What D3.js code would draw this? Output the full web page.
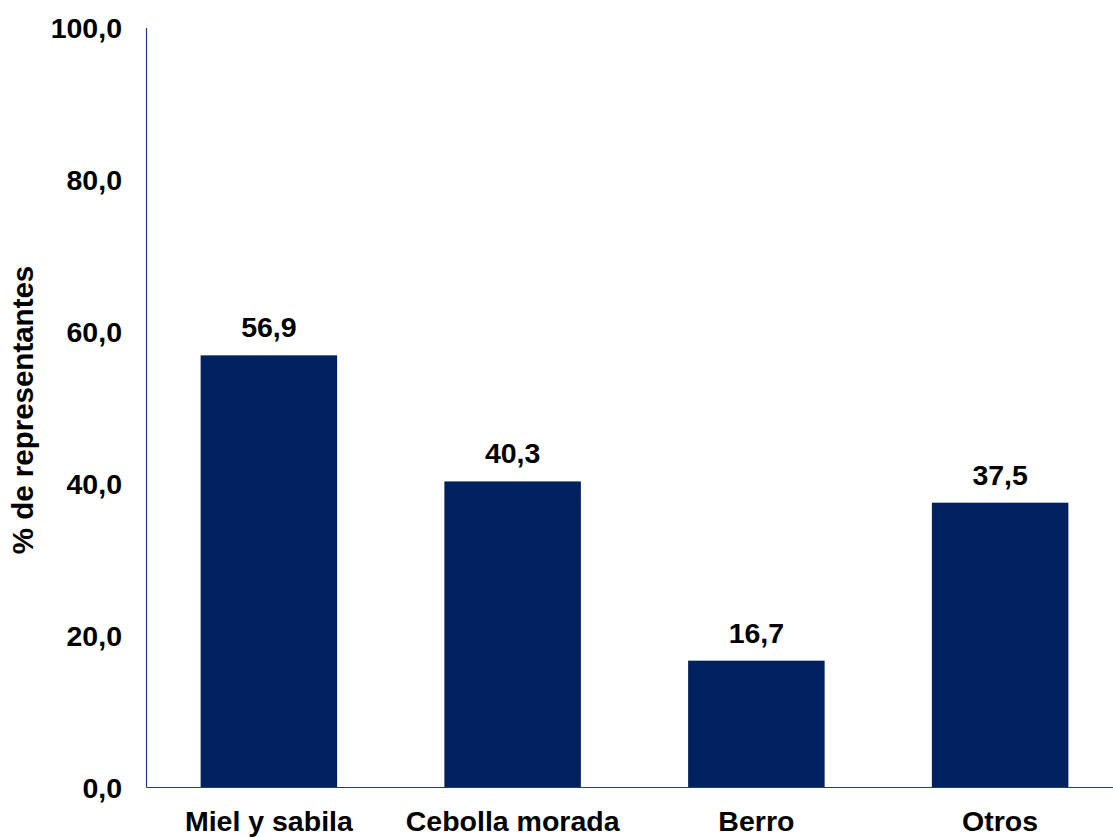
<!DOCTYPE html>
<html><head><meta charset="utf-8">
<script src="https://cdn.jsdelivr.net/npm/d3@7/dist/d3.min.js"></script>
<style>body{margin:0;background:#fff}svg{display:block}text{font-family:"Liberation Sans",Arial,sans-serif;font-weight:bold;fill:#000}</style>
</head><body>
<script>
const categories = ["Miel y sabila", "Cebolla morada", "Berro", "Otros"];
const values = [56.9, 40.3, 16.7, 37.5];
const yTicks = [0, 20, 40, 60, 80, 100];
const yTitle = "% de representantes";

const W = 1113, H = 838;
const svg = d3.select("body").append("svg").attr("width", W).attr("height", H);
const x = d3.scaleBand().domain(categories).range([147, 1122]);
const y = d3.scaleLinear().domain([0, 100]).range([787.5, 28]);
const fmt = v => v.toFixed(1).replace(".", ",");
const barW = x.bandwidth() * 0.56;

svg.selectAll("rect.bar").data(values).join("rect")
  .attr("x", (d, i) => x(categories[i]) + (x.bandwidth() - barW) / 2)
  .attr("width", barW)
  .attr("y", d => y(d))
  .attr("height", d => y(0) - y(d))
  .attr("fill", "#00205f");

svg.selectAll("text.val").data(values).join("text")
  .attr("x", (d, i) => x(categories[i]) + x.bandwidth() / 2)
  .attr("y", d => y(d) - 18)
  .attr("text-anchor", "middle").attr("font-size", 28.5)
  .text(fmt);

// axes
svg.append("line").attr("x1", 146.5).attr("x2", 146.5).attr("y1", y(100)).attr("y2", y(0))
  .attr("stroke", "#1f3a8a").attr("stroke-width", 1.2);
svg.append("line").attr("x1", 146.5).attr("x2", W).attr("y1", y(0)).attr("y2", y(0))
  .attr("stroke", "#1f3a8a").attr("stroke-width", 1.2);

svg.selectAll("text.ytick").data(yTicks).join("text")
  .attr("x", 122).attr("y", d => y(d)).attr("dy", "0.36em")
  .attr("text-anchor", "end").attr("font-size", 28.5).text(fmt);

svg.selectAll("text.xcat").data(categories).join("text")
  .attr("x", d => x(d) + x.bandwidth() / 2).attr("y", 831)
  .attr("text-anchor", "middle").attr("font-size", 28.5).text(d => d);

svg.append("text").attr("transform", "translate(33,410) rotate(-90)")
  .attr("text-anchor", "middle").attr("font-size", 29.5).text(yTitle);
</script>
</body></html>
